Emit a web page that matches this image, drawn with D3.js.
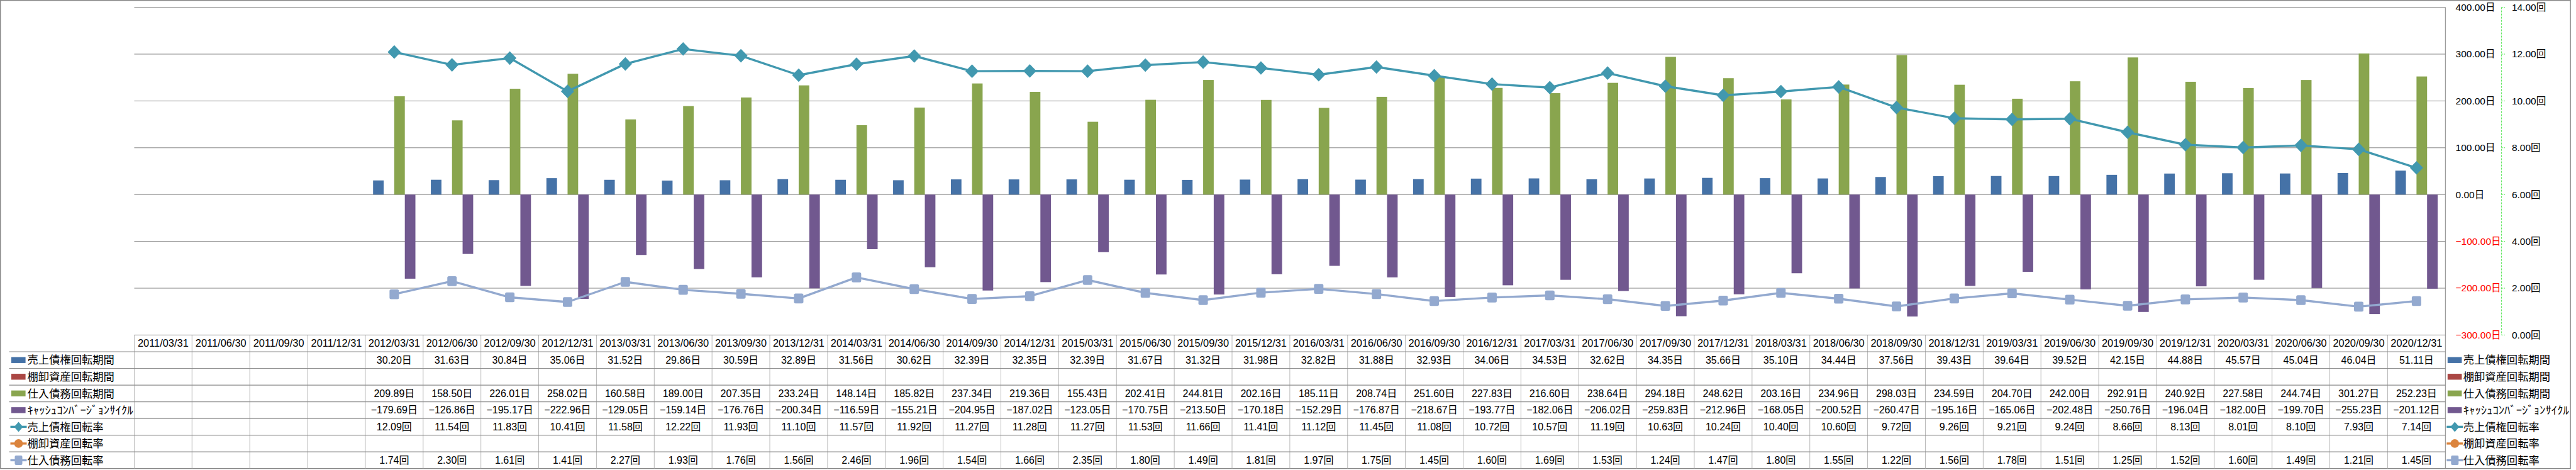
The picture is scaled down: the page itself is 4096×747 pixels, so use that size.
<!DOCTYPE html>
<html><head><meta charset="utf-8">
<script src="https://cdn.jsdelivr.net/npm/d3@7"></script>
<style>
html,body{margin:0;padding:0;background:#fff;overflow:hidden;}
svg{display:block;}
text{font-family:"Liberation Sans","Noto Sans CJK JP",sans-serif;}
.cjk{font-family:"Noto Sans CJK JP",sans-serif;}
</style></head><body>
<svg id="c" width="4096" height="747"></svg>
<script>
const dates = ["2011/03/31","2011/06/30","2011/09/30","2011/12/31","2012/03/31","2012/06/30","2012/09/30","2012/12/31",
"2013/03/31","2013/06/30","2013/09/30","2013/12/31","2014/03/31","2014/06/30","2014/09/30","2014/12/31",
"2015/03/31","2015/06/30","2015/09/30","2015/12/31","2016/03/31","2016/06/30","2016/09/30","2016/12/31",
"2017/03/31","2017/06/30","2017/09/30","2017/12/31","2018/03/31","2018/06/30","2018/09/30","2018/12/31",
"2019/03/31","2019/06/30","2019/09/30","2019/12/31","2020/03/31","2020/06/30","2020/09/30","2020/12/31"];
const seriesNames = ["売上債権回転期間","棚卸資産回転期間","仕入債務回転期間","ｷｬｯｼｭｺﾝﾊﾞｰｼﾞｮﾝｻｲｸﾙ","売上債権回転率","棚卸資産回転率","仕入債務回転率"];
const seriesUnits = ["日","日","日","日","回","回","回"];
const receivableDays = [null,null,null,null,30.20,31.63,30.84,35.06,31.52,29.86,30.59,32.89,31.56,30.62,32.39,32.35,32.39,31.67,31.32,31.98,32.82,31.88,32.93,34.06,34.53,32.62,34.35,35.66,35.10,34.44,37.56,39.43,39.64,39.52,42.15,44.88,45.57,45.04,46.04,51.11];
const inventoryDays = [null,null,null,null,null,null,null,null,null,null,null,null,null,null,null,null,null,null,null,null,null,null,null,null,null,null,null,null,null,null,null,null,null,null,null,null,null,null,null,null];
const payableDays = [null,null,null,null,209.89,158.50,226.01,258.02,160.58,189.00,207.35,233.24,148.14,185.82,237.34,219.36,155.43,202.41,244.81,202.16,185.11,208.74,251.60,227.83,216.60,238.64,294.18,248.62,203.16,234.96,298.03,234.59,204.70,242.00,292.91,240.92,227.58,244.74,301.27,252.23];
const cccDays = [null,null,null,null,-179.69,-126.86,-195.17,-222.96,-129.05,-159.14,-176.76,-200.34,-116.59,-155.21,-204.95,-187.02,-123.05,-170.75,-213.50,-170.18,-152.29,-176.87,-218.67,-193.77,-182.06,-206.02,-259.83,-212.96,-168.05,-200.52,-260.47,-195.16,-165.06,-202.48,-250.76,-196.04,-182.00,-199.70,-255.23,-201.12];
const receivableTurnover = [null,null,null,null,12.09,11.54,11.83,10.41,11.58,12.22,11.93,11.10,11.57,11.92,11.27,11.28,11.27,11.53,11.66,11.41,11.12,11.45,11.08,10.72,10.57,11.19,10.63,10.24,10.40,10.60,9.72,9.26,9.21,9.24,8.66,8.13,8.01,8.10,7.93,7.14];
const inventoryTurnover = [null,null,null,null,null,null,null,null,null,null,null,null,null,null,null,null,null,null,null,null,null,null,null,null,null,null,null,null,null,null,null,null,null,null,null,null,null,null,null,null];
const payableTurnover = [null,null,null,null,1.74,2.30,1.61,1.41,2.27,1.93,1.76,1.56,2.46,1.96,1.54,1.66,2.35,1.80,1.49,1.81,1.97,1.75,1.45,1.60,1.69,1.53,1.24,1.47,1.80,1.55,1.22,1.56,1.78,1.51,1.25,1.52,1.60,1.49,1.21,1.45];
const leftTicks = [400,300,200,100,0,-100,-200,-300];
const rightTicks = [14,12,10,8,6,4,2,0];
const colors = ["#4572A7","#AA4643","#89A54E","#71588F","#4198AF","#DB843D","#93A9CF"];

const barSeries = [receivableDays, inventoryDays, payableDays, cccDays];
const lineSeries = [receivableTurnover, inventoryTurnover, payableTurnover];
const allSeries = barSeries.concat(lineSeries);

const S = 0.58;
const plotL = 368*S, plotR = 6704*S, plotT = 20*S, plotB = 918*S;
const tableBottom = 1284*S;
const rowH = (1284-918)/8*S;
const svg = d3.select("#c");

const x0 = d3.scaleBand().domain(dates).range([plotL, plotR]).padding(0);
const x1 = d3.scaleBand().domain([0,1,2,3]).range([0, x0.bandwidth()]).paddingInner(0).paddingOuter(0.73);
const yL = d3.scaleLinear().domain([-300,400]).range([plotB, plotT]);
const yR = d3.scaleLinear().domain([0,14]).range([plotB, plotT]);
const cx = d => x0(d) + x0.bandwidth()/2;
const f2 = d3.format(".2f");

// frame
svg.append("rect").attr("x",0.7).attr("y",0.7).attr("width",7048*S-1.4).attr("height",1285*S-1.4)
  .attr("fill","none").attr("stroke","#868686").attr("stroke-width",1.4);

// gridlines
svg.append("g").selectAll("line").data(leftTicks).join("line")
  .attr("x1",plotL).attr("x2",plotR).attr("y1",d=>yL(d)).attr("y2",d=>yL(d))
  .attr("stroke","#868686").attr("stroke-width",1);

// bars
barSeries.forEach((vals,k)=>{
  svg.append("g").selectAll("rect").data(dates.map((d,i)=>({d,v:vals[i]})).filter(o=>o.v!=null)).join("rect")
    .attr("x",o=>x0(o.d)+x1(k)).attr("width",x1.bandwidth())
    .attr("y",o=>Math.min(yL(o.v),yL(0))).attr("height",o=>Math.abs(yL(o.v)-yL(0)))
    .attr("fill",colors[k]);
});

// lines
const diamond = (w,h)=>`M0,${-h}L${w},0L0,${h}L${-w},0Z`;
lineSeries.forEach((vals,j)=>{
  const col = colors[4+j];
  const pts = dates.map((d,i)=>({d,v:vals[i]})).filter(o=>o.v!=null);
  if(!pts.length) return;
  svg.append("path").datum(pts)
    .attr("d", d3.line().x(o=>cx(o.d)).y(o=>yR(o.v)))
    .attr("fill","none").attr("stroke",col).attr("stroke-width",3.4).attr("stroke-linejoin","round");
  const g = svg.append("g");
  pts.forEach(o=>{
    const X=cx(o.d), Y=yR(o.v);
    if(j===0) g.append("path").attr("d",diamond(10.5,10.8)).attr("transform",`translate(${X},${Y})`).attr("fill",col);
    else if(j===1) g.append("circle").attr("cx",X).attr("cy",Y).attr("r",8).attr("fill",col);
    else g.append("rect").attr("x",X-7.5).attr("y",Y-7.8).attr("width",15).attr("height",15.6).attr("rx",2.5).attr("fill",col);
  });
});

// right vertical border
svg.append("line").attr("x1",plotR).attr("x2",plotR).attr("y1",plotT).attr("y2",tableBottom)
  .attr("stroke","#868686").attr("stroke-width",1);

// primary axis labels (days)
svg.append("g").selectAll("text").data(leftTicks).join("text")
  .attr("x",6732*S).attr("y",d=>yL(d)).attr("dy","0.35em")
  .attr("font-size",15.5).attr("fill",d=>d<0?"#ff0000":"#000")
  .text(d=>f2(d)+"日");

// secondary axis
const axX = 6858*S;
svg.append("line").attr("x1",axX).attr("x2",axX).attr("y1",plotT).attr("y2",plotB)
  .attr("stroke","#22dd22").attr("stroke-width",0.8).attr("stroke-dasharray","3,2");
svg.append("g").selectAll("line").data(rightTicks).join("line")
  .attr("x1",axX).attr("x2",axX+6).attr("y1",d=>yR(d)).attr("y2",d=>yR(d))
  .attr("stroke","#22dd22").attr("stroke-width",0.8).attr("stroke-dasharray","2,1.5");
svg.append("g").selectAll("text").data(rightTicks).join("text")
  .attr("x",6886*S).attr("y",d=>yR(d)).attr("dy","0.35em")
  .attr("font-size",15.5).attr("fill","#000")
  .text(d=>f2(d)+"回");

// table
const tT = plotB;
const tg = svg.append("g");
tg.selectAll("line.v").data(dates).join("line").attr("class","v")
  .attr("x1",d=>x0(d)).attr("x2",d=>x0(d)).attr("y1",tT).attr("y2",tableBottom)
  .attr("stroke","#a6a6a6").attr("stroke-width",0.8);
const hl = d3.range(1,8);
tg.selectAll("line.h").data(hl).join("line").attr("class","h")
  .attr("x1",25*S).attr("x2",plotR).attr("y1",k=>tT+k*rowH).attr("y2",k=>tT+k*rowH)
  .attr("stroke","#8c8c8c").attr("stroke-width",1.2);
tg.selectAll("text.hd").data(dates).join("text").attr("class","hd")
  .attr("x",cx).attr("y",tT+rowH/2).attr("dy","0.35em").attr("text-anchor","middle")
  .attr("font-size",16.4).text(d=>d);
allSeries.forEach((vals,r)=>{
  const yc = tT + (r+1.5)*rowH;
  tg.append("g").selectAll("text").data(dates.map((d,i)=>({d,v:vals[i]})).filter(o=>o.v!=null)).join("text")
    .attr("x",o=>cx(o.d)).attr("y",yc).attr("dy","0.35em").attr("text-anchor","middle")
    .attr("font-size",16).text(o=>f2(o.v)+seriesUnits[r]);
});

// legend keys
function legendKey(g, r, x, yc){
  const col = colors[r];
  if(r<4){
    g.append("rect").attr("x",x).attr("y",yc-4.7).attr("width",22.6).attr("height",9.4).attr("fill",col);
  } else {
    g.append("line").attr("x1",x-1.5).attr("x2",x+24.5).attr("y1",yc).attr("y2",yc)
      .attr("stroke",col).attr("stroke-width",3.4);
    const mx = x+11.5;
    if(r===4) g.append("path").attr("d",diamond(7,8)).attr("transform",`translate(${mx},${yc})`).attr("fill",col);
    else if(r===5) g.append("circle").attr("cx",mx).attr("cy",yc).attr("r",6.8).attr("fill",col);
    else g.append("rect").attr("x",mx-6).attr("y",yc-7.5).attr("width",12).attr("height",15).attr("rx",2).attr("fill",col);
  }
}
function legendText(g, name, r, x, yc){
  const t = g.append("text").attr("class","cjk").attr("x",x).attr("y",yc).attr("dy","0.36em")
    .attr("font-size",17.3).text(name);
  if(r===3) t.attr("textLength",168).attr("lengthAdjust","spacingAndGlyphs");
}
seriesNames.forEach((name,r)=>{
  const yc = tT + (r+1.5)*rowH;
  const gl = svg.append("g");
  legendKey(gl, r, 18, yc);
  legendText(gl, name, r, 43.5, yc);
  const gr = svg.append("g");
  legendKey(gr, r, 6710*S, yc);
  legendText(gr, name, r, 6753*S, yc);
});
</script>
</body></html>
